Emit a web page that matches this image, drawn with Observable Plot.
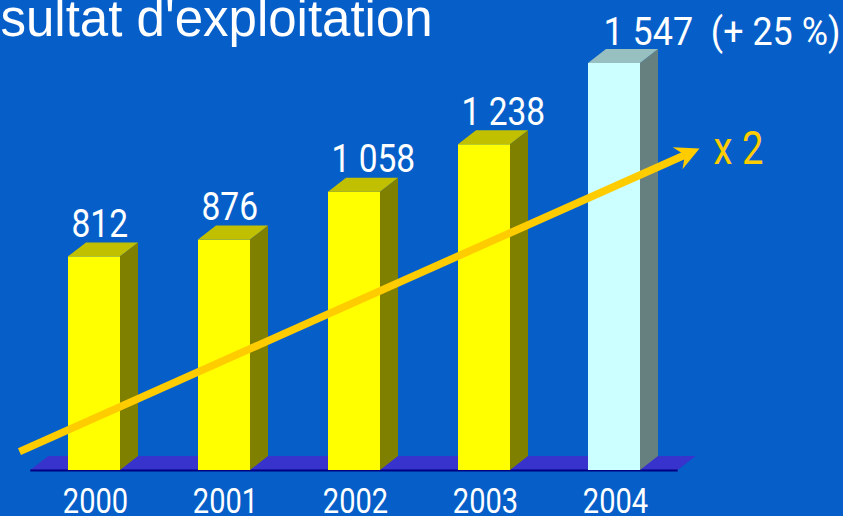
<!DOCTYPE html>
<html><head><meta charset="utf-8">
<script src="https://cdn.jsdelivr.net/npm/d3@7"></script>
<script src="https://cdn.jsdelivr.net/npm/@observablehq/plot@0.6"></script>
<style>
html,body{margin:0;padding:0;background:#065fc9;overflow:hidden}
.cond text,.condv text,.condl text{white-space:pre}
</style></head><body><div id="chart"></div>
<script>
// ---- data ----
const years = [2000, 2001, 2002, 2003, 2004];
const values = [812, 876, 1058, 1238, 1547];
const valueLabels = ["812", "876", "1 058", "1 238", "1 547  (+ 25 %)"];
const highlightYear = 2004;
const title = "sultat d'exploitation";
const trendLabel = "x 2";
const trendStart = [1999.423, 72];   // [year, value]
const trendEnd = [2004.654, 1224];   // [year, value]

// ---- layout / style ----
const W = 843, H = 516;
const BG = "#065fc9";
const HALF = 0.2;      // half bar width (in years)
const DX = 0.1385;     // 3D depth in x (years)
const DY = 53.2;       // 3D depth in y (value units)
const FLOOR = 0.49;    // floor overhang (years)
const COND = "Roboto, 'Liberation Sans', sans-serif";
const PAL = {
  front: {n: "#ffff00", h: "#ccffff"},
  side:  {n: "#808000", h: "#668080"},
  top:   {n: "#c0c000", h: "#99c0c0"}
};
const ARROW = "#ffcc00";

const xOpts = {type: "linear", domain: [2000 - 94 / 130, 2000 + (W - 94) / 130], range: [0, W]};
const yOpts = {type: "linear", domain: [0, 1547], range: [470, 63]};

const data = years.map((year, i) => ({year, value: values[i], label: valueLabels[i], k: year === highlightYear ? "h" : "n"}));

const sides = data.flatMap(d => [
  {bar: d.year, x: d.year + HALF, y1: 0, y2: d.value, fill: PAL.side[d.k]},
  {bar: d.year, x: d.year + HALF + DX, y1: DY, y2: d.value + DY, fill: PAL.side[d.k]}
]);
const tops = data.flatMap(d => [
  {bar: d.year, y: d.value, x1: d.year - HALF, x2: d.year + HALF, fill: PAL.top[d.k]},
  {bar: d.year, y: d.value + DY, x1: d.year - HALF + DX, x2: d.year + HALF + DX, fill: PAL.top[d.k]}
]);
const x0 = d3.min(years) - FLOOR, x1 = d3.max(years) + FLOOR;
const floor = [
  {y: 0, x1: x0, x2: x1},
  {y: DY, x1: x0 + DX, x2: x1 + DX}
];

// arrow geometry via the same scales
const xs = Plot.scale({x: xOpts}), ys = Plot.scale({y: yOpts});
const p0 = [xs.apply(trendStart[0]), ys.apply(trendStart[1])];
const p1 = [xs.apply(trendEnd[0]), ys.apply(trendEnd[1])];
const ang = Math.atan2(p1[1] - p0[1], p1[0] - p0[0]);
const back = 16;
const shaftEnd = [xs.invert(p1[0] - back * Math.cos(ang)), ys.invert(p1[1] - back * Math.sin(ang))];
const arrowHead = {
  draw(ctx) {
    ctx.moveTo(0, 0);
    ctx.lineTo(-24, -12);
    ctx.lineTo(-16, 0);
    ctx.lineTo(-24, 12);
    ctx.closePath();
  }
};

const last = data[data.length - 1];
const rest = data.slice(0, -1);

const chart = Plot.plot({
  width: W, height: H, margin: 0,
  x: {...xOpts, axis: null},
  y: {...yOpts, axis: null},
  color: {type: "identity"},
  style: {background: BG, overflow: "visible"},
  marks: [
    Plot.areaX(floor, {y: "y", x1: "x1", x2: "x2", fill: "#3733cc"}),
    Plot.ruleY([0], {x1: x0, x2: x1, stroke: "#000080", strokeWidth: 2}),
    Plot.rect(data, {x1: d => d.year - HALF, x2: d => d.year + HALF, y1: 0, y2: "value", fill: d => PAL.front[d.k]}),
    Plot.areaY(sides, {x: "x", y1: "y1", y2: "y2", z: "bar", fill: "fill"}),
    Plot.areaX(tops, {y: "y", x1: "x1", x2: "x2", z: "bar", fill: "fill"}),
    Plot.link([0], {x1: trendStart[0], y1: trendStart[1], x2: shaftEnd[0], y2: shaftEnd[1], stroke: ARROW, strokeWidth: 7.5, strokeLinecap: "butt"}),
    Plot.dot([0], {x: trendEnd[0], y: trendEnd[1], symbol: arrowHead, fill: ARROW, stroke: "none", rotate: ang * 180 / Math.PI}),
    Plot.text([trendLabel], {x: trendEnd[0], y: trendEnd[1], text: d => d, textAnchor: "start", lineAnchor: "bottom", dx: 14, dy: 16, fill: ARROW, fontSize: 46, fontFamily: COND, className: "cond"}),
    Plot.text(rest, {x: "year", y: d => d.value + DY, text: "label", textAnchor: "start", lineAnchor: "bottom", dx: -23, dy: -6, fill: "white", fontSize: 39, fontFamily: COND, className: "condv"}),
    Plot.text([last], {x: "year", y: d => d.value + DY, text: "label", textAnchor: "start", lineAnchor: "bottom", dx: -11, dy: -5, fill: "white", fontSize: 39, fontFamily: COND, className: "condl"}),
    Plot.text(data, {x: "year", text: d => String(d.year), frameAnchor: "bottom", textAnchor: "middle", lineAnchor: "bottom", dx: 1, dy: -4, fill: "white", fontSize: 35, fontFamily: COND, className: "cond"}),
    Plot.text([title], {frameAnchor: "top-left", text: d => d, textAnchor: "start", lineAnchor: "bottom", dx: 0, dy: 35, fill: "white", fontSize: 51, fontFamily: "'Liberation Sans', Arial, sans-serif"})
  ]
});
document.getElementById("chart").appendChild(chart);
// condense the label font horizontally (the reference uses a condensed face)
function squeeze(sel, k) {
  chart.querySelectorAll(sel).forEach(t => {
    const L = t.getComputedTextLength();
    t.setAttribute("textLength", (L * k).toFixed(1));
    t.setAttribute("lengthAdjust", "spacingAndGlyphs");
  });
}
squeeze(".cond text", 0.83);
squeeze(".condv text", 0.86);
squeeze(".condl text", 0.92);
</script>
</body></html>
